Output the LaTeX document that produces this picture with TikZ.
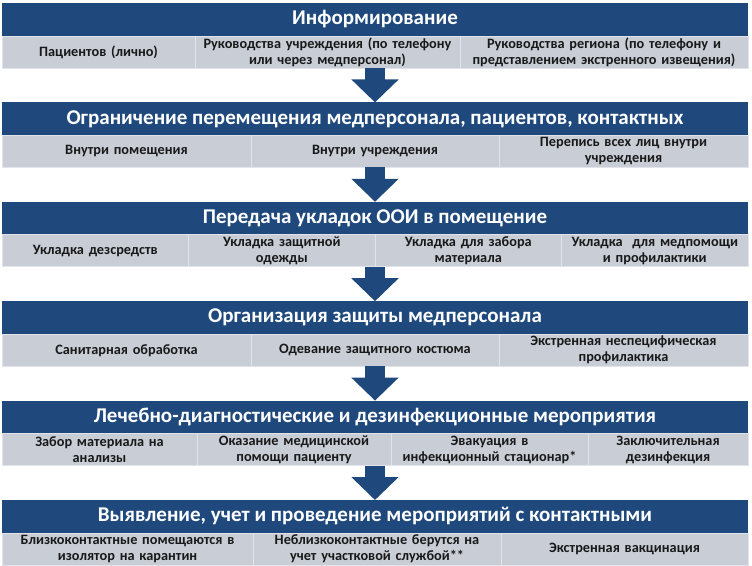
\documentclass[tikz,border=0pt]{standalone}
\usepackage{fontspec}
\setmainfont{Carlito}
\usetikzlibrary{positioning,arrows.meta}
\definecolor{hdrblue}{RGB}{31,73,125}
\definecolor{cellgray}{RGB}{200,205,214}
\definecolor{cellline}{RGB}{225,228,234}
\definecolor{celltext}{RGB}{25,25,25}

\begin{document}
\begin{tikzpicture}[x=1pt,y=-1pt,
    head/.style={fill=hdrblue, text=white, minimum width=746pt, minimum height=33pt,
      inner sep=0pt, outer sep=0pt, font=\fontsize{21}{24}\selectfont\bfseries},
    cell/.style={fill=cellgray, draw=cellline, line width=0.8pt, text=celltext,
      text width=#1, minimum height=32pt, inner sep=0pt, outer sep=0pt, align=center,
      font=\fontsize{14.3}{16}\selectfont\bfseries},
    flow/.style={draw=hdrblue, line width=20pt, -{Triangle[width=46pt,length=23pt]}}]
  \useasboundingbox (0,0) rectangle (752,565);

  % stage headers
  \node[head] (h1) at (375,19.5)  {Информирование};
  \node[head] (h2) at (375,118.9) {Ограничение перемещения медперсонала, пациентов, контактных};
  \node[head] (h3) at (375,218.3) {Передача укладок ООИ в помещение};
  \node[head] (h4) at (375,317.7) {Организация защиты медперсонала};
  \node[head] (h5) at (375,417.1) {Лечебно-диагностические и дезинфекционные мероприятия};
  \node[head] (h6) at (375,516.5) {Выявление, учет и проведение мероприятий с контактными};

  % row 1
  \node[cell=193pt] (c1a) [below right=0pt and 0pt of h1.south west] {Пациентов (лично)};
  \node[cell=265pt] (c1b) [right=0pt of c1a] {Руководства учреждения (по телефону\\ или через медперсонал)};
  \node[cell=288pt] (c1c) [right=0pt of c1b] {Руководства региона (по телефону и\\ представлением экстренного извещения)};

  % row 2
  \node[cell=249pt] (c2a) [below right=0pt and 0pt of h2.south west] {Внутри помещения};
  \node[cell=248pt] (c2b) [right=0pt of c2a] {Внутри учреждения};
  \node[cell=249pt] (c2c) [right=0pt of c2b] {Перепись всех лиц внутри\\ учреждения};

  % row 3
  \node[cell=186.5pt] (c3a) [below right=0pt and 0pt of h3.south west] {Укладка дезсредств};
  \node[cell=186.5pt] (c3b) [right=0pt of c3a] {Укладка защитной\\ одежды};
  \node[cell=186.5pt] (c3c) [right=0pt of c3b] {Укладка для забора\\ материала};
  \node[cell=186.5pt] (c3d) [right=0pt of c3c] {Укладка\ \ для медпомощи\\ и профилактики};

  % row 4
  \node[cell=249pt] (c4a) [below right=0pt and 0pt of h4.south west] {Санитарная обработка};
  \node[cell=248pt] (c4b) [right=0pt of c4a] {Одевание защитного костюма};
  \node[cell=249pt] (c4c) [right=0pt of c4b] {Экстренная неспецифическая\\ профилактика};

  % row 5
  \node[cell=195pt] (c5a) [below right=0pt and 0pt of h5.south west] {Забор материала на\\ анализы};
  \node[cell=194pt] (c5b) [right=0pt of c5a] {Оказание медицинской\\ помощи пациенту};
  \node[cell=197pt] (c5c) [right=0pt of c5b] {Эвакуация в\\ инфекционный стационар*};
  \node[cell=160pt] (c5d) [right=0pt of c5c] {Заключительная\\ дезинфекция};

  % row 6
  \node[cell=251pt] (c6a) [below right=0pt and 0pt of h6.south west] {Близкоконтактные помещаются в\\ изолятор на карантин};
  \node[cell=248pt] (c6b) [right=0pt of c6a] {Неблизкоконтактные берутся на\\ учет участковой службой**};
  \node[cell=247pt] (c6c) [right=0pt of c6b] {Экстренная вакцинация};

  % arrows between stages
  \foreach \a/\b/\c in {h1/h2/c1a, h2/h3/c2a, h3/h4/c3a, h4/h5/c4a, h5/h6/c5a}
    \draw[flow] (\a.south |- \c.south) -- (\b.north);
\end{tikzpicture}
\end{document}
